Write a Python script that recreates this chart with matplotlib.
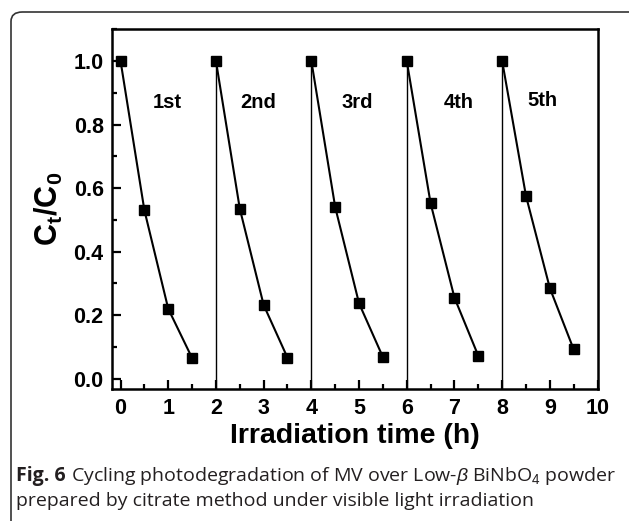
import matplotlib
matplotlib.use('Agg')
import matplotlib.pyplot as plt
from matplotlib.patches import FancyBboxPatch
from matplotlib.ticker import MultipleLocator, FormatStrFormatter

plt.rcParams['font.family'] = 'Liberation Sans'
plt.rcParams['mathtext.fontset'] = 'custom'
plt.rcParams['mathtext.rm'] = 'Liberation Sans'
plt.rcParams['mathtext.it'] = 'Liberation Sans:italic'
plt.rcParams['mathtext.bf'] = 'Liberation Sans:bold'

# irradiation time (h) and Ct/C0 for each of the five cycles
cycle_names = ['1st', '2nd', '3rd', '4th', '5th']
times = [
    [0.0, 0.5, 1.0, 1.5],
    [2.0, 2.5, 3.0, 3.5],
    [4.0, 4.5, 5.0, 5.5],
    [6.0, 6.5, 7.0, 7.5],
    [8.0, 8.5, 9.0, 9.5],
]
ratios = [
    [1.00, 0.530, 0.220, 0.065],
    [1.00, 0.535, 0.232, 0.066],
    [1.00, 0.540, 0.237, 0.068],
    [1.00, 0.552, 0.255, 0.072],
    [1.00, 0.575, 0.285, 0.092],
]
label_x = [0.97, 2.89, 4.97, 7.08, 8.85]
label_y = [0.87, 0.87, 0.87, 0.87, 0.875]

fig = plt.figure(figsize=(6.29, 5.21), dpi=100)
ax = fig.add_axes([0.178, 0.253, 0.772, 0.691])

ymin = -0.033
for t, r in zip(times, ratios):
    ax.plot(t, r, color='black', lw=1.5, marker='s', ms=7.4, zorder=3)
# separators at the start of each new cycle
ax.vlines([t[0] for t in times[1:]], ymin, [r[0] for r in ratios[1:]],
          color='black', lw=1.0)

for name, x, y in zip(cycle_names, label_x, label_y):
    ax.text(x, y, name, ha='center', va='center', fontsize=14.5, fontweight='bold')

ax.set_xlim(-0.18, 10.0)
ax.set_ylim(ymin, 1.1)
ax.xaxis.set_major_locator(MultipleLocator(1))
ax.xaxis.set_minor_locator(MultipleLocator(0.5))
ax.yaxis.set_major_locator(MultipleLocator(0.2))
ax.yaxis.set_minor_locator(MultipleLocator(0.1))
ax.yaxis.set_major_formatter(FormatStrFormatter('%.1f'))
ax.tick_params(which='both', direction='in', width=1.6, top=False, right=False)
ax.tick_params(which='major', length=6.5, labelsize=15.5, pad=6)
ax.tick_params(which='minor', length=3.6)
for lab in ax.get_xticklabels() + ax.get_yticklabels():
    lab.set_fontweight('bold')
for sp in ax.spines.values():
    sp.set_linewidth(1.8)

ax.set_xlabel('Irradiation time (h)', fontsize=20.5, fontweight='bold', labelpad=3)
ax.set_ylabel(r'$\mathbf{C_t/C_0}$', fontsize=22, labelpad=6)

# rounded frame around the figure and caption
frame = FancyBboxPatch((11 / 629, -20 / 521), 640 / 629, 529 / 521,
                       boxstyle='round,pad=0,rounding_size=0.018',
                       transform=fig.transFigure, fill=False,
                       edgecolor='#333333', lw=1.2)
fig.patches.append(frame)

cap_size = 14
cap_color = '#231f20'
renderer = fig.canvas.get_renderer()
t1 = fig.text(16 / 629, 1 - 476 / 521, 'Fig. 6', fontsize=cap_size, fontweight='bold',
              family='Open Sans', va='center', color=cap_color)
bb = t1.get_window_extent(renderer)
fig.text(bb.x1 / 629 + 5 / 629, 1 - 476 / 521,
         r'Cycling photodegradation of MV over Low-$\beta$ BiNbO$_4$ powder',
         fontsize=cap_size, family='Open Sans', va='center', color=cap_color)
fig.text(16 / 629, 1 - 501 / 521,
         'prepared by citrate method under visible light irradiation',
         fontsize=cap_size, family='Open Sans', va='center', color=cap_color)

fig.savefig('out.png', dpi=100)
